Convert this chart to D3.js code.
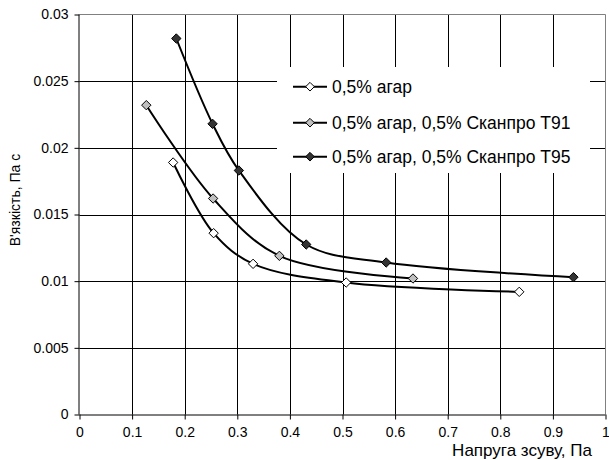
<!DOCTYPE html>
<html><head><meta charset="utf-8">
<script src="https://cdn.jsdelivr.net/npm/d3@7"></script>
<style>body{margin:0;background:#fff}svg{display:block}text{font-family:"Liberation Sans",Arial,sans-serif;fill:#000}</style>
</head><body>
<script>
const seriesNames = ["0,5% агар", "0,5% агар, 0,5% Сканпро Т91", "0,5% агар, 0,5% Сканпро Т95"];
const x1 = [0.178, 0.255, 0.33, 0.507, 0.836];
const y1 = [0.0189, 0.0136, 0.0113, 0.0099, 0.0092];
const x2 = [0.127, 0.254, 0.38, 0.634];
const y2 = [0.0232, 0.0162, 0.0119, 0.0102];
const x3 = [0.184, 0.253, 0.303, 0.431, 0.583, 0.939];
const y3 = [0.0282, 0.0218, 0.0183, 0.01275, 0.0114, 0.0103];
const xTicks = [0, 0.1, 0.2, 0.3, 0.4, 0.5, 0.6, 0.7, 0.8, 0.9, 1];
const yTicks = [0, 0.005, 0.01, 0.015, 0.02, 0.025, 0.03];
const xTitle = "Напруга зсуву, Па";
const yTitle = "В'язкість, Па с";
const fills = ["#ffffff", "#c0c0c0", "#333333"];

const W = 609, H = 460;
const L = 79.5, R = 605.5, T = 14.5, B = 414.5;
const svg = d3.select("body").append("svg").attr("width", W).attr("height", H);
const x = d3.scaleLinear().domain([0, 1]).range([L, R]);
const y = d3.scaleLinear().domain([0, 0.03]).range([B, T]);
const fmt = d => String(d);

// grid
svg.append("g").selectAll("line.v").data(xTicks.slice(1, -1)).join("line")
  .attr("x1", d => Math.round(x(d)) + 0.5).attr("x2", d => Math.round(x(d)) + 0.5)
  .attr("y1", T).attr("y2", B).attr("stroke", "#000").attr("stroke-width", 1);
svg.append("g").selectAll("line.h").data(yTicks.slice(1, -1)).join("line")
  .attr("y1", d => Math.round(y(d)) + 0.5).attr("y2", d => Math.round(y(d)) + 0.5)
  .attr("x1", L).attr("x2", R).attr("stroke", "#000").attr("stroke-width", 1);
svg.append("path").attr("d", `M${L},${T}H${R}V${B}`).attr("fill", "none").attr("stroke", "#808080");

// axes
const xAxis = d3.axisBottom(x).tickValues(xTicks).tickFormat(fmt).tickSize(5).tickPadding(8);
const gx = svg.append("g").attr("transform", `translate(0,${B})`).call(xAxis);
const yAxis = d3.axisLeft(y).tickValues(yTicks).tickFormat(fmt).tickSize(5).tickPadding(6);
const gy = svg.append("g").attr("transform", `translate(${L},0)`).call(yAxis);
[gx, gy].forEach(g => {
  g.select(".domain").attr("stroke", "#000");
  g.selectAll(".tick line").attr("stroke", "#000");
  g.selectAll("text").attr("font-size", 14).attr("font-family", '"Liberation Sans",Arial,sans-serif').attr("fill", "#000");
});
gx.select(".domain").attr("d", `M${L},0.5H${R}`);
gy.select(".domain").attr("d", `M-0.5,${T}V${B}`);

// series
const data = [[x1, y1], [x2, y2], [x3, y3]].map(([xs, ys]) => xs.map((v, i) => [v, ys[i]]));
const line = d3.line().x(d => x(d[0])).y(d => y(d[1])).curve(d3.curveCatmullRom.alpha(0.5));
const diamond = d3.symbol().type(d3.symbolDiamond2).size(56);
data.forEach((pts, i) => {
  svg.append("path").attr("d", line(pts)).attr("fill", "none").attr("stroke", "#000").attr("stroke-width", 2);
  svg.append("g").selectAll("path").data(pts).join("path")
    .attr("transform", d => `translate(${x(d[0])},${y(d[1])})`)
    .attr("d", diamond).attr("fill", fills[i]).attr("stroke", "#000").attr("stroke-width", 1);
});

// legend
const lg = svg.append("g");
lg.append("rect").attr("x", 277).attr("y", 67).attr("width", 313).attr("height", 106).attr("fill", "#fff");
const rows = [86.7, 122.7, 156.7];
seriesNames.forEach((n, i) => {
  lg.append("line").attr("x1", 293).attr("x2", 327).attr("y1", rows[i]).attr("y2", rows[i]).attr("stroke", "#000").attr("stroke-width", 2);
  lg.append("path").attr("transform", `translate(310,${rows[i]})`).attr("d", d3.symbol().type(d3.symbolDiamond2).size(48)).attr("fill", fills[i]).attr("stroke", "#000");
  lg.append("text").attr("x", 332).attr("y", rows[i] + 6).attr("font-size", 17.5).text(n);
});

// titles
svg.append("text").attr("x", 592).attr("y", 456).attr("text-anchor", "end").attr("font-size", 17).text(xTitle);
svg.append("text").attr("transform", "translate(20,200) rotate(-90)").attr("text-anchor", "middle").attr("font-size", 14).text(yTitle);
</script>
</body></html>
